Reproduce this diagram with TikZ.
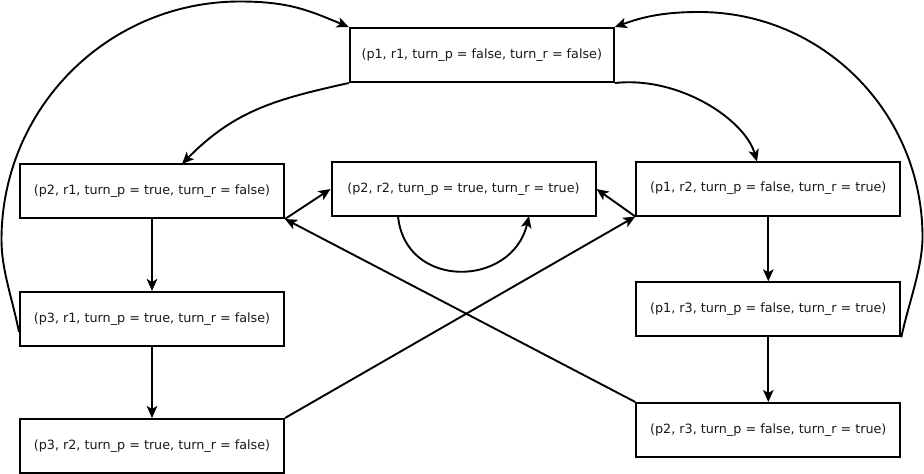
\documentclass[tikz,border=0pt]{standalone}
\usepackage{fontspec}
\setmainfont{DejaVu Sans}
\usetikzlibrary{arrows.meta}
\begin{document}
\begin{tikzpicture}[x=1pt,y=-1pt,
  state/.style={draw=black, line width=2pt, fill=white, minimum width=264pt, minimum height=54pt, inner sep=0pt, font=\fontsize{12.75pt}{15pt}\selectfont, text=black!90},
  edge/.style={line width=1.9pt, -{Stealth[length=12pt,width=10.5pt,inset=3pt]}},
  plain/.style={line width=1.9pt}]
\useasboundingbox (0,0) rectangle (924,474);

\node[state] (s0) at (481.8,55) {(p1, r1, turn\_p = false, turn\_r = false)};
\node[state] (s1) at (152,191) {(p2, r1, turn\_p = true, turn\_r = false)};
\node[state] (s2) at (463.5,189) {(p2, r2, turn\_p = true, turn\_r = true)};
\node[state] (s3) at (768.3,188.5) {(p1, r2, turn\_p = false, turn\_r = true)};
\node[state] (s4) at (152,319) {(p3, r1, turn\_p = true, turn\_r = false)};
\node[state] (s5) at (152,446) {(p3, r2, turn\_p = true, turn\_r = false)};
\node[state] (s6) at (768.3,309.3) {(p1, r3, turn\_p = false, turn\_r = true)};
\node[state] (s7) at (768.3,430) {(p2, r3, turn\_p = false, turn\_r = true)};

\coordinate (s1top) at (182,164);
\coordinate (s3top) at (757,161.5);
\coordinate (s4left) at (s4.west |- 0,332);
\coordinate (loopa) at (398,216);
\coordinate (loopb) at (529,216);

% top box to p2r1 and p1r2
\draw[edge] (s0.south west) .. controls (277,99) and (235,110) .. (s1top);
\draw[edge] (s0.south east) .. controls (680,76) and (745,120) .. (s3top);

% big left arc
\draw[edge] (s4left) .. controls (12,297) and (1.5,270) .. (1.5,240)
  .. controls (1.5,108) and (108,1.5) .. (240,1.5)
  .. controls (290,1.5) and (310,11) .. (s0.north west);
% big right arc
\draw[edge] (s6.south east) .. controls (908,305) and (922.5,268) .. (922.5,237)
  .. controls (922.5,113) and (823,12) .. (699,12)
  .. controls (660,12) and (640,18) .. (s0.north east);

% vertical arrows
\draw[edge] (s1.south) -- (s4.north);
\draw[edge] (s4.south) -- (s5.north);
\draw[edge] (s3.south) -- (s6.north);
\draw[edge] (s6.south) -- (s7.north);

% diagonals
\draw[edge] (s1.south east) -- (s2.west);
\draw[edge] (s3.south west) -- (s2.east);
\draw[edge] (s7.north west) -- (s1.south east);
\draw[edge] (s5.north east) -- (s3.south west);

% self loop
\draw[edge] (loopa) .. controls (405,290) and (512,288) .. (loopb);
\end{tikzpicture}
\end{document}
